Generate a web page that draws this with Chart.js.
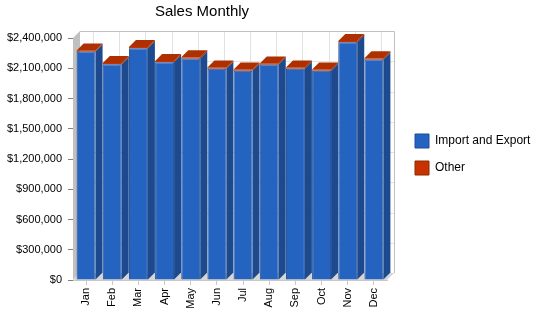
<!DOCTYPE html>
<html>
<head>
<meta charset="utf-8">
<script src="https://cdn.jsdelivr.net/npm/chart.js@4"></script>
<style>
  html, body { margin: 0; padding: 0; background: #ffffff; }
  #wrap { width: 550px; height: 318px; }
</style>
</head>
<body>
<div id="wrap"><canvas id="c" width="550" height="318"></canvas></div>
<script>
// ---- data ----
const months = ['Jan', 'Feb', 'Mar', 'Apr', 'May', 'Jun', 'Jul', 'Aug', 'Sep', 'Oct', 'Nov', 'Dec'];
const importExport = [2265000, 2140000, 2299000, 2160000, 2196000, 2096000, 2076000, 2136000, 2096000, 2076000, 2358000, 2186000];
const other = [12000, 12000, 12000, 12000, 12000, 12000, 12000, 12000, 12000, 12000, 12000, 12000];
const seriesNames = ['Import and Export', 'Other'];
const yMin = 0, yMax = 2400000, yStep = 300000;
const chartTitle = 'Sales Monthly';

// ---- styles ----
const DEPTH = 7;
const FONT = '"Liberation Sans", Arial, sans-serif';
Chart.defaults.font.family = FONT;
Chart.defaults.color = '#000000';

const faceColors = [
  { front: '#2563C0', side: '#1D4A8E', top: '#3A72CC', border: '#1E4C98' },
  { front: '#C83200', side: '#8C2600', top: '#AE3000', border: '#8E2800' }
];

const threeD = {
  id: 'threeD',
  beforeDatasetsDraw(chart) {
    const { ctx, chartArea: a, scales: { x, y } } = chart;
    const d = DEPTH;
    ctx.save();
    ctx.fillStyle = '#ffffff';
    ctx.fillRect(a.left + d, a.top - d, a.right - a.left, a.bottom - a.top);
    ctx.lineWidth = 1;
    ctx.strokeStyle = '#e2e2e2';
    y.ticks.forEach(t => {
      const py = Math.round(y.getPixelForValue(t.value) - d) + 0.5;
      ctx.beginPath();
      ctx.moveTo(a.left + d, py);
      ctx.lineTo(a.right + d, py);
      ctx.stroke();
    });
    x.ticks.forEach((t, i) => {
      const px = Math.round(x.getPixelForTick(i) + d) + 0.5;
      ctx.beginPath();
      ctx.moveTo(px, a.top - d);
      ctx.lineTo(px, a.bottom - d);
      ctx.stroke();
    });
    ctx.strokeStyle = '#c0c0c0';
    ctx.beginPath();
    ctx.moveTo(a.left + d, Math.round(a.top - d) + 0.5);
    ctx.lineTo(Math.round(a.right + d) + 0.5, Math.round(a.top - d) + 0.5);
    ctx.lineTo(Math.round(a.right + d) + 0.5, a.bottom - d);
    ctx.stroke();
    ctx.fillStyle = '#c0c0c0';
    ctx.beginPath();
    ctx.moveTo(a.left, a.top);
    ctx.lineTo(a.left + d, a.top - d);
    ctx.lineTo(a.left + d, a.bottom - d);
    ctx.lineTo(a.left, a.bottom);
    ctx.closePath();
    ctx.fill();
    ctx.fillStyle = '#d6d6d6';
    ctx.beginPath();
    ctx.moveTo(a.left, a.bottom);
    ctx.lineTo(a.left + d, a.bottom - d);
    ctx.lineTo(a.right + d, a.bottom - d);
    ctx.lineTo(a.right, a.bottom);
    ctx.closePath();
    ctx.fill();
    ctx.restore();
  },
  afterDatasetsDraw(chart) {
    const { ctx } = chart;
    const d = DEPTH;
    const n = chart.data.datasets.length;
    ctx.save();
    for (let di = 0; di < n; di++) {
      const meta = chart.getDatasetMeta(di);
      const col = faceColors[di];
      meta.data.forEach(el => {
        const p = el.getProps(['x', 'y', 'base', 'width'], true);
        const x0 = p.x - p.width / 2, x1 = p.x + p.width / 2;
        const top = Math.min(p.y, p.base), bot = Math.max(p.y, p.base);
        ctx.fillStyle = col.side;
        ctx.beginPath();
        ctx.moveTo(x1, top);
        ctx.lineTo(x1 + d, top - d);
        ctx.lineTo(x1 + d, bot - d);
        ctx.lineTo(x1, bot);
        ctx.closePath();
        ctx.fill();
        if (di === n - 1) {
          ctx.fillStyle = col.top;
          ctx.beginPath();
          ctx.moveTo(x0, top);
          ctx.lineTo(x0 + d, top - d);
          ctx.lineTo(x1 + d, top - d);
          ctx.lineTo(x1, top);
          ctx.closePath();
          ctx.fill();
        }
      });
    }
    ctx.restore();
  },
  afterDraw(chart) {
    const { ctx } = chart;
    ctx.save();
    ctx.font = '15px ' + FONT;
    ctx.fillStyle = '#000000';
    ctx.textAlign = 'center';
    ctx.textBaseline = 'alphabetic';
    ctx.fillText(chartTitle, 202, 16);
    ctx.restore();
  }
};

new Chart(document.getElementById('c'), {
  type: 'bar',
  data: {
    labels: months,
    datasets: [
      { label: seriesNames[0], data: importExport, backgroundColor: faceColors[0].front, borderColor: faceColors[0].border, borderWidth: 1, borderSkipped: 'bottom' },
      { label: seriesNames[1], data: other, backgroundColor: faceColors[1].front, borderColor: faceColors[1].border, borderWidth: 0 }
    ]
  },
  options: {
    responsive: false,
    animation: false,
    devicePixelRatio: 1,
    datasets: { bar: { barPercentage: 0.725, categoryPercentage: 1 } },
    layout: { padding: { top: 38, right: 9.7, left: 0, bottom: 0 } },
    plugins: {
      title: { display: false },
      tooltip: { enabled: false },
      legend: {
        position: 'right',
        align: 'start',
        fullSize: false,
        maxWidth: 138.3,
        title: { display: true, text: '', padding: { top: 68.6, bottom: 0 } },
        labels: {
          boxWidth: 14,
          boxHeight: 14,
          padding: 13,
          color: '#000000',
          font: { size: 12, family: FONT },
          generateLabels(chart) {
            return chart.data.datasets.map((ds, i) => ({
              text: ds.label,
              fillStyle: faceColors[i].front,
              strokeStyle: faceColors[i].border,
              lineWidth: 1,
              datasetIndex: i,
              hidden: false
            }));
          }
        }
      }
    },
    scales: {
      x: {
        stacked: true,
        grid: { display: true, drawOnChartArea: false, drawTicks: true, tickLength: 5, tickColor: '#c8c8c8', offset: false },
        border: { display: true, color: '#c8c8c8' },
        ticks: { minRotation: 90, maxRotation: 90, padding: 3, font: { size: 11 }, color: '#000000', autoSkip: false },
        afterFit(s) { s.height = 38; }
      },
      y: {
        stacked: true,
        min: yMin,
        max: yMax,
        grid: { display: true, drawOnChartArea: false, drawTicks: true, tickLength: 5, tickColor: '#808080' },
        border: { display: false },
        ticks: {
          stepSize: yStep,
          padding: 6,
          font: { size: 11 },
          color: '#000000',
          callback: v => '$' + Number(v).toLocaleString('en-US')
        },
        afterFit(s) { s.width = 73; }
      },
      gap: {
        type: 'linear',
        position: 'right',
        display: true,
        grid: { display: false },
        border: { display: false },
        ticks: { display: false },
        afterFit(s) { s.width = 15; }
      }
    }
  },
  plugins: [threeD]
});
</script>
</body>
</html>
